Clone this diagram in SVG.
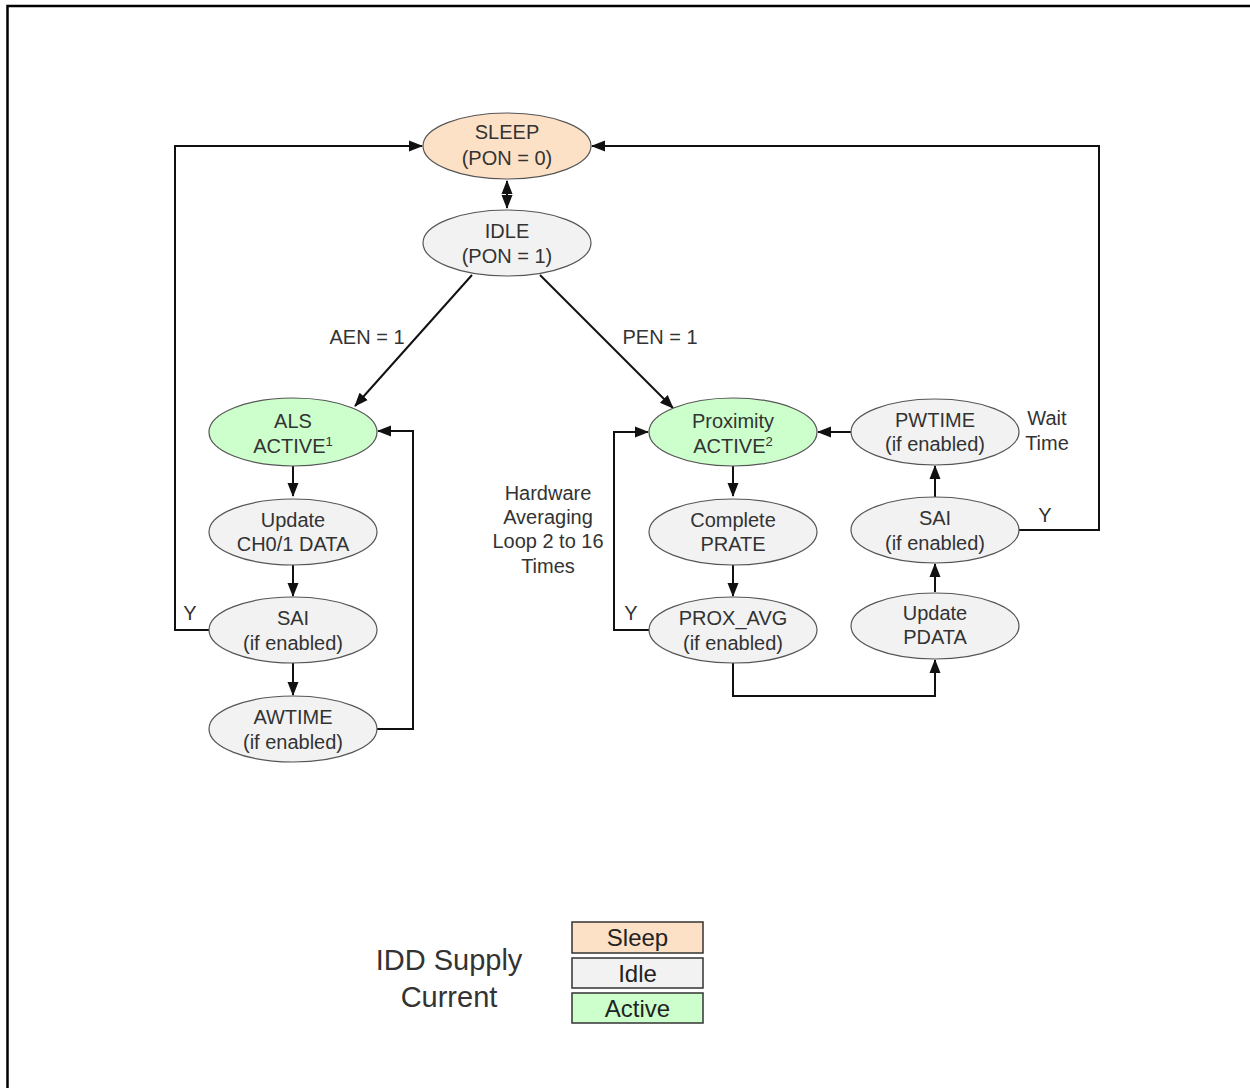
<svg xmlns="http://www.w3.org/2000/svg" width="1250" height="1088" viewBox="0 0 1250 1088">
<defs>
<marker id="ah" markerUnits="userSpaceOnUse" markerWidth="14" markerHeight="14" viewBox="0 0 14 14" refX="13" refY="7" orient="auto-start-reverse">
<path d="M0,1.5 L14,7 L0,12.5 Z" fill="#111"/>
</marker>
</defs>
<style>
.n{stroke:#555;stroke-width:1.2}
.sl{fill:#fde1c6}
.id{fill:#f2f2f2}
.ac{fill:#ccffcc}
.t{font-family:"Liberation Sans",Arial,sans-serif;font-size:20px;fill:#333;text-anchor:middle}
.c{fill:none;stroke:#111;stroke-width:2}
.lg{font-family:"Liberation Sans",Arial,sans-serif;font-size:24px;fill:#222;text-anchor:middle}
.lb{stroke:#333;stroke-width:1.5}
</style>
<rect width="1250" height="1088" fill="#fff"/>
<path d="M7.5,1088 V6 H1250" fill="none" stroke="#000" stroke-width="2.5"/>

<g id="connectors">
<path class="c" d="M507,181 V208" marker-start="url(#ah)" marker-end="url(#ah)"/>
<path class="c" d="M472,275 L355,406" marker-end="url(#ah)"/>
<path class="c" d="M540,275 L673,408" marker-end="url(#ah)"/>
<path class="c" d="M293,466 V496" marker-end="url(#ah)"/>
<path class="c" d="M293,565 V596" marker-end="url(#ah)"/>
<path class="c" d="M293,663 V695" marker-end="url(#ah)"/>
<path class="c" d="M377,729 H413 V431 H378" marker-end="url(#ah)"/>
<path class="c" d="M209,630 H175 V146 H422" marker-end="url(#ah)"/>
<path class="c" d="M733,466 V496" marker-end="url(#ah)"/>
<path class="c" d="M733,565 V596" marker-end="url(#ah)"/>
<path class="c" d="M649,630 H614 V432 H648" marker-end="url(#ah)"/>
<path class="c" d="M733,663 V696 H935 V660" marker-end="url(#ah)"/>
<path class="c" d="M935,592 V564" marker-end="url(#ah)"/>
<path class="c" d="M935,497 V466" marker-end="url(#ah)"/>
<path class="c" d="M851,432 H818" marker-end="url(#ah)"/>
<path class="c" d="M1018,530 H1099 V146 H592" marker-end="url(#ah)"/>
</g>

<g id="labels">
<text class="t" x="367" y="344">AEN = 1</text>
<text class="t" x="660" y="344">PEN = 1</text>
<text class="t" x="190" y="620">Y</text>
<text class="t" x="631" y="620">Y</text>
<text class="t" x="1045" y="522">Y</text>
<text class="t" x="1047" y="425">Wait</text>
<text class="t" x="1047" y="450">Time</text>
<text class="t" x="548" y="500">Hardware</text>
<text class="t" x="548" y="524">Averaging</text>
<text class="t" x="548" y="548">Loop 2 to 16</text>
<text class="t" x="548" y="573">Times</text>
</g>

<g id="sleep">
<ellipse class="n sl" cx="507" cy="146" rx="84" ry="33"/>
<text class="t" x="507" y="139">SLEEP</text>
<text class="t" x="507" y="165">(PON = 0)</text>
</g>
<g id="idle">
<ellipse class="n id" cx="507" cy="243" rx="84" ry="33"/>
<text class="t" x="507" y="238">IDLE</text>
<text class="t" x="507" y="263">(PON = 1)</text>
</g>
<g id="als_active">
<ellipse class="n ac" cx="293" cy="432" rx="84" ry="34"/>
<text class="t" x="293" y="428">ALS</text>
<text class="t" x="293" y="453">ACTIVE<tspan font-size="13" dy="-7">1</tspan></text>
</g>
<g id="update_ch">
<ellipse class="n id" cx="293" cy="532" rx="84" ry="33"/>
<text class="t" x="293" y="527">Update</text>
<text class="t" x="293" y="551">CH0/1 DATA</text>
</g>
<g id="sai_als">
<ellipse class="n id" cx="293" cy="630" rx="84" ry="33"/>
<text class="t" x="293" y="625">SAI</text>
<text class="t" x="293" y="650">(if enabled)</text>
</g>
<g id="awtime">
<ellipse class="n id" cx="293" cy="729" rx="84" ry="33"/>
<text class="t" x="293" y="724">AWTIME</text>
<text class="t" x="293" y="749">(if enabled)</text>
</g>
<g id="prox_active">
<ellipse class="n ac" cx="733" cy="432" rx="84" ry="34"/>
<text class="t" x="733" y="428">Proximity</text>
<text class="t" x="733" y="453">ACTIVE<tspan font-size="13" dy="-7">2</tspan></text>
</g>
<g id="complete_prate">
<ellipse class="n id" cx="733" cy="532" rx="84" ry="33"/>
<text class="t" x="733" y="527">Complete</text>
<text class="t" x="733" y="551">PRATE</text>
</g>
<g id="prox_avg">
<ellipse class="n id" cx="733" cy="630" rx="84" ry="33"/>
<text class="t" x="733" y="625">PROX_AVG</text>
<text class="t" x="733" y="650">(if enabled)</text>
</g>
<g id="pwtime">
<ellipse class="n id" cx="935" cy="432" rx="84" ry="33"/>
<text class="t" x="935" y="427">PWTIME</text>
<text class="t" x="935" y="451">(if enabled)</text>
</g>
<g id="sai_prox">
<ellipse class="n id" cx="935" cy="530" rx="84" ry="33"/>
<text class="t" x="935" y="525">SAI</text>
<text class="t" x="935" y="550">(if enabled)</text>
</g>
<g id="update_pdata">
<ellipse class="n id" cx="935" cy="626" rx="84" ry="33"/>
<text class="t" x="935" y="620">Update</text>
<text class="t" x="935" y="644">PDATA</text>
</g>

<g id="legend">
<text class="t" x="449" y="970" style="font-size:29px">IDD Supply</text>
<text class="t" x="449" y="1007" style="font-size:29px">Current</text>
<rect class="lb sl" x="572" y="922" width="131" height="31"/>
<text class="lg" x="637.5" y="946">Sleep</text>
<rect class="lb id" x="572" y="958" width="131" height="30"/>
<text class="lg" x="637.5" y="982">Idle</text>
<rect class="lb ac" x="572" y="993" width="131" height="30"/>
<text class="lg" x="637.5" y="1017">Active</text>
</g>
</svg>
